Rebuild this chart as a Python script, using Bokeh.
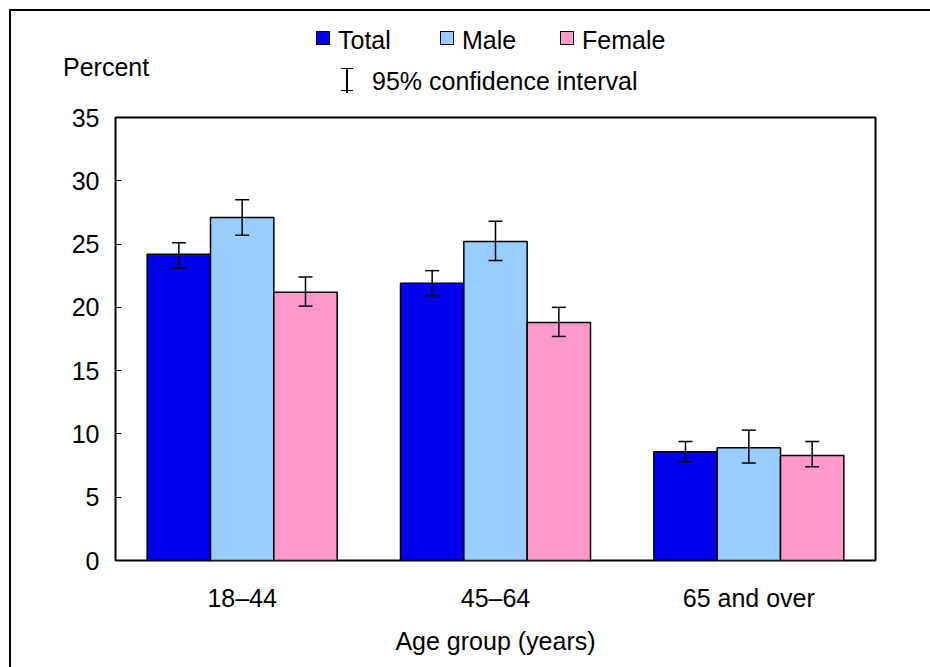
from bokeh.plotting import figure
from bokeh.models import ColumnDataSource, Whisker, FixedTicker, Range1d, Div
from bokeh.layouts import column
from bokeh.embed import file_html
from bokeh.resources import INLINE

groups = ["18\u201344", "45\u201364", "65 and over"]
series = ["Total", "Male", "Female"]
colors = ["#0000ee", "#99ccff", "#ff99cc"]
values = {"Total": [24.2, 21.9, 8.6], "Male": [27.1, 25.2, 8.9], "Female": [21.2, 18.8, 8.3]}
upper = {"Total": [25.1, 22.9, 9.4], "Male": [28.5, 26.8, 10.3], "Female": [22.4, 20.0, 9.4]}
lower = {"Total": [23.1, 20.9, 7.8], "Male": [25.7, 23.7, 7.7], "Female": [20.1, 17.7, 7.4]}
offsets = [-0.25, 0.0, 0.25]
FONT = "Liberation Sans"
FS = "25px"

W = 930
HH = 88
leg_x = [305, 429, 549]
parts = []
for s, c, x in zip(series, colors, leg_x):
    parts.append(f'<div style="position:absolute;left:{x}px;top:20px;width:14px;height:14px;'
                 f'background:{c};border:1.5px solid black"></div>')
    parts.append(f'<span style="position:absolute;left:{x + 22}px;top:14px;line-height:30px">{s}</span>')
parts.append('<span style="position:absolute;left:52px;top:41px;line-height:30px">Percent</span>')
parts.append('<span style="position:absolute;left:361px;top:55px;line-height:30px">95% confidence interval</span>')
parts.append('<div style="position:absolute;left:330px;top:57px;width:12px;height:23px;'
             'border-top:1.5px solid black;border-bottom:1.5px solid black"></div>')
parts.append('<div style="position:absolute;left:335px;top:57px;width:1.5px;height:25px;background:black"></div>')
html = (f'<div style="position:relative;width:{W}px;height:{HH}px;font-family:\'{FONT}\';'
        f'font-size:{FS};color:black">' + "".join(parts) + '</div>')
h = Div(text=html, width=W, height=HH, margin=0)

p = figure(width=W, height=588, output_backend="svg", toolbar_location=None,
           x_range=Range1d(0, 3), y_range=Range1d(0, 35),
           min_border_left=104, min_border_right=66, min_border_top=18, min_border_bottom=127)
p.outline_line_color = "black"
p.outline_line_width = 2
p.grid.visible = False

for s, c, off in zip(series, colors, offsets):
    xs = [i + 0.5 + off for i in range(len(groups))]
    src = ColumnDataSource(dict(x=xs, top=values[s], up=upper[s], lo=lower[s]))
    p.vbar(x="x", top="top", width=0.25, source=src, fill_color=c, line_color="black", line_width=1.5)
    w = Whisker(source=src, base="x", upper="up", lower="lo", line_color="black", line_width=1.5, level="overlay")
    w.upper_head.size = 14; w.lower_head.size = 14
    w.upper_head.line_width = 1.5; w.lower_head.line_width = 1.5
    p.add_layout(w)

p.xaxis.ticker = FixedTicker(ticks=[0.5, 1.5, 2.5])
p.xaxis.major_label_overrides = {0.5: groups[0], 1.5: groups[1], 2.5: groups[2]}
p.xaxis.major_tick_line_color = None
p.xaxis.minor_tick_line_color = None
p.xaxis.axis_line_color = None
p.xaxis.major_label_standoff = 17
p.xaxis.axis_label = "Age group (years)"
p.xaxis.axis_label_standoff = 12
p.yaxis.ticker = FixedTicker(ticks=[0, 5, 10, 15, 20, 25, 30, 35])
p.yaxis.major_tick_in = 6
p.yaxis.major_tick_out = 0
p.yaxis.minor_tick_line_color = None
p.yaxis.axis_line_color = None
p.yaxis.major_label_standoff = 16
for ax in (p.xaxis, p.yaxis):
    ax.major_label_text_font = FONT
    ax.major_label_text_font_size = FS
    ax.major_label_text_color = "black"
    ax.axis_label_text_font = FONT
    ax.axis_label_text_font_size = FS
    ax.axis_label_text_font_style = "normal"
    ax.axis_label_text_color = "black"

inner = column(h, p, spacing=0, styles={"border": "2px solid black"})
outer = column(inner, styles={"padding": "9px 0 0 9px"})
open("out.html", "w").write(file_html(outer, INLINE))
